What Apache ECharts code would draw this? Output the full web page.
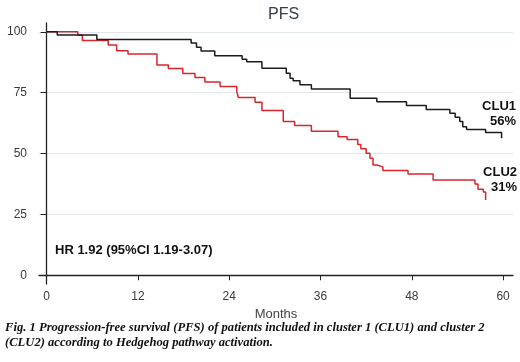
<!DOCTYPE html>
<html lang="en">
<head>
<meta charset="UTF-8">
<title>PFS</title>
<script src="https://cdn.jsdelivr.net/npm/echarts@6/dist/echarts.min.js"></script>
<style>
    body { margin: 0; background: #fff; }
    #root { width: 520px; height: 362px; }
</style>
</head>
<body>
<div id="root"></div>
<script>
    // Kaplan-Meier steps (months, % progression-free)
    var clu1Months = [0, 1.4, 6.6, 19.0, 19.7, 20.3, 22.1, 25.7, 26.3, 28.3, 31.5, 32.0, 32.4, 33.3, 34.8, 39.9, 43.4, 47.3, 49.9, 53.0, 53.7, 54.3, 54.7, 55.2, 57.7, 59.8];
    var clu1Surv = [100, 98.7, 96.8, 95.4, 93.6, 92.1, 90.2, 88.7, 87.7, 85.0, 83.0, 80.9, 79.9, 78.2, 76.5, 72.7, 71.3, 69.7, 68.1, 66.5, 64.9, 63.1, 61.0, 59.9, 58.6, 56.3];

    var clu2Months = [0, 4.1, 4.7, 8.1, 9.2, 10.7, 14.5, 16.0, 17.9, 19.5, 20.8, 22.8, 25.0, 25.2, 27.4, 28.3, 31.1, 32.6, 34.8, 38.3, 39.5, 40.9, 41.3, 42.0, 42.5, 42.9, 43.4, 44.2, 47.5, 50.8, 56.3, 56.7, 57.4, 57.7];
    var clu2Surv = [100, 98.7, 96.4, 94.6, 92.2, 90.9, 86.4, 84.9, 82.9, 81.2, 79.4, 77.5, 75.3, 73.0, 71.0, 67.7, 63.1, 61.5, 59.1, 56.9, 55.7, 53.7, 51.9, 50.1, 48.0, 45.3, 44.5, 43.0, 41.6, 39.1, 37.5, 35.3, 34.2, 30.9];

    var xTicks = [0, 12, 24, 36, 48, 60];
    var yTicks = [0, 25, 50, 75, 100];

    function pairs(xs, ys) {
        return xs.map(function (x, i) { return [x, ys[i]]; });
    }

    var chart = echarts.init(document.getElementById('root'));

    chart.setOption({
        animation: false,
        title: {
            text: 'PFS',
            left: 263,
            top: 2,
            textStyle: { fontFamily: 'Liberation Sans', fontSize: 16, fontWeight: 'normal', color: '#34404c' }
        },
        grid: { left: 39, right: 7, top: 23, bottom: 78 },
        xAxis: {
            type: 'value',
            min: -1,
            max: 61.3,
            name: 'Months',
            nameLocation: 'middle',
            nameGap: 18,
            nameTextStyle: { fontFamily: 'Liberation Sans', fontSize: 13, color: '#444' },
            axisLine: { lineStyle: { color: '#222', width: 1.3 } },
            axisTick: { customValues: xTicks, length: 5, lineStyle: { color: '#222' } },
            axisLabel: { customValues: xTicks, margin: 7, fontFamily: 'Liberation Sans', fontSize: 12, color: '#3a3a3a' },
            splitLine: { show: false }
        },
        yAxis: {
            type: 'value',
            min: -3.6,
            max: 103.6,
            axisLine: { show: true, lineStyle: { color: '#222', width: 1.3 } },
            axisTick: { show: true, customValues: yTicks, length: 6, lineStyle: { color: '#222' } },
            axisLabel: { customValues: yTicks, margin: 12, fontFamily: 'Liberation Sans', fontSize: 12, color: '#3a3a3a' },
            splitLine: { show: true, lineStyle: { color: ['rgba(0,0,0,0)', '#e2e8ea', '#e2e8ea', '#e2e8ea', '#e2e8ea'], width: 1 } }
        },
        series: [{
            name: 'CLU1',
            type: 'line',
            step: 'end',
            symbol: 'none',
            data: pairs(clu1Months, clu1Surv),
            lineStyle: { color: '#1c1c1c', width: 1.5 },
            z: 3
        }, {
            name: 'CLU2',
            type: 'line',
            step: 'end',
            symbol: 'none',
            data: pairs(clu2Months, clu2Surv),
            lineStyle: { color: '#d9262c', width: 1.5 },
            z: 2
        }],
        graphic: [
            { type: 'text', right: 4, top: 100, style: { text: 'CLU1', font: 'bold 13px "Liberation Sans"', fill: '#111' } },
            { type: 'text', right: 4, top: 115, style: { text: '56%', font: 'bold 13px "Liberation Sans"', fill: '#111' } },
            { type: 'text', right: 3, top: 166, style: { text: 'CLU2', font: 'bold 13px "Liberation Sans"', fill: '#111' } },
            { type: 'text', right: 3, top: 181, style: { text: '31%', font: 'bold 13px "Liberation Sans"', fill: '#111' } },
            { type: 'text', left: 55, top: 244, style: { text: 'HR 1.92 (95%CI 1.19-3.07)', font: 'bold 13px "Liberation Sans"', fill: '#111' } },
            { type: 'text', left: 5, top: 321, style: { text: 'Fig. 1 Progression-free survival (PFS) of patients included in cluster 1 (CLU1) and cluster 2', font: 'italic bold 12.6px "Liberation Serif"', fill: '#111' } },
            { type: 'text', left: 5, top: 336, style: { text: '(CLU2) according to Hedgehog pathway activation.', font: 'italic bold 12.6px "Liberation Serif"', fill: '#111' } }
        ]
    });
</script>
</body>
</html>
